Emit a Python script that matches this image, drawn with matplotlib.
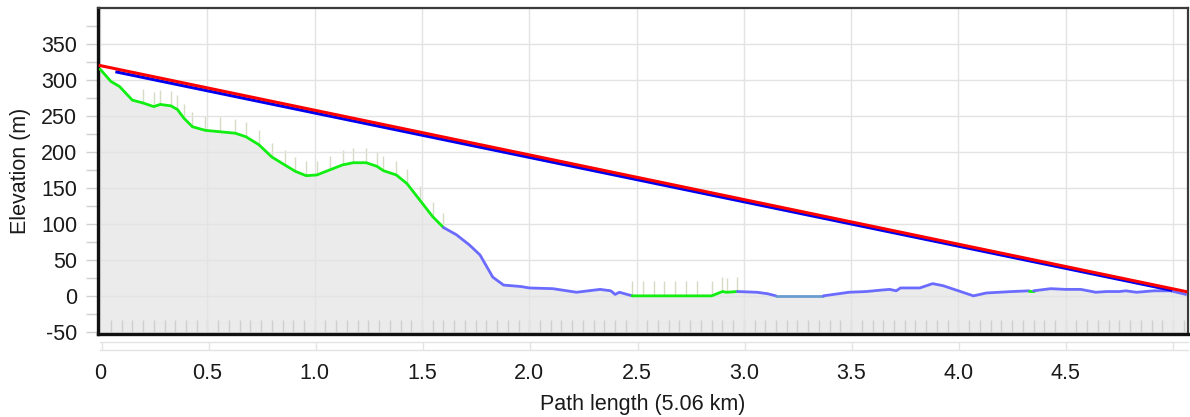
import matplotlib
matplotlib.use("Agg")
import matplotlib.pyplot as plt
import numpy as np

plt.rcParams['font.family'] = ['Liberation Sans', 'DejaVu Sans']
plt.rcParams['axes.unicode_minus'] = False

# Terrain profile (distance km, elevation m)
dist = [0.00, 0.05, 0.09, 0.15, 0.20, 0.25, 0.28, 0.33, 0.36, 0.39, 0.43, 0.49,
        0.56, 0.63, 0.68, 0.74, 0.80, 0.86, 0.91, 0.96, 1.01, 1.07, 1.13, 1.18,
        1.24, 1.29, 1.32, 1.38, 1.43, 1.49, 1.55, 1.60, 1.66, 1.72, 1.77, 1.83,
        1.88, 1.96, 2.00, 2.11, 2.22, 2.33, 2.38, 2.40, 2.42, 2.48, 2.53, 2.58,
        2.63, 2.68, 2.73, 2.78, 2.85, 2.90, 2.92, 2.97, 3.06, 3.11, 3.15, 3.37,
        3.49, 3.57, 3.64, 3.68, 3.71, 3.73, 3.82, 3.88, 3.93, 4.01, 4.07, 4.13,
        4.19, 4.25, 4.33, 4.35, 4.43, 4.50, 4.57, 4.64, 4.69, 4.75, 4.78, 4.83,
        4.91, 4.99, 5.06]
elev = [315, 298, 291, 272, 268, 263, 266, 264, 259, 247, 235, 230,
        228, 226, 221, 210, 193, 182, 173, 167, 168, 175, 182, 185,
        185, 180, 174, 168, 156, 133, 110, 95, 85, 71, 57, 26,
        15, 13, 11, 10, 5, 9, 7, 2, 5, 0, 0, 0,
        0, 0, 0, 0, 0, 6, 5, 6, 5, 3, 0, 0,
        5, 6, 8, 9, 7, 11, 11, 17, 14, 6, 0, 4,
        5, 6, 7, 7, 10, 9, 9, 5, 6, 6, 7, 5,
        7, 7, 2]

# Land cover segments along the path (start km, end km, colour)
seg_start = [0.00, 1.60, 2.48, 2.97, 3.15, 3.37, 4.33, 4.35]
seg_end = [1.60, 2.48, 2.97, 3.15, 3.37, 4.33, 4.35, 5.06]
seg_color = ['#11ee11', '#6b6bff', '#11ee11', '#6b6bff', '#6a9bd0', '#6b6bff', '#11ee11', '#6b6bff']

clutter_height = 20  # m, on vegetated segments

# Line-of-sight rays
red_x = [0.0, 5.06]
red_y = [320, 6]
blue_x = [0.078, 4.99]
blue_y = [311, 8]

xticks = [0, 0.5, 1.0, 1.5, 2.0, 2.5, 3.0, 3.5, 4.0, 4.5]
xticklabels = ['0', '0.5', '1.0', '1.5', '2.0', '2.5', '3.0', '3.5', '4.0', '4.5']
yticks = [-50, 0, 50, 100, 150, 200, 250, 300, 350]

dist = np.array(dist)
elev = np.array(elev)

fig = plt.figure(figsize=(11.9, 4.17), dpi=100)
ax = fig.add_axes([98 / 1190, 1 - 334 / 417, 1090 / 1190, 326 / 417])

ymin, ymax = -53, 400
ax.fill_between(dist, elev, ymin, color='#ebebeb', zorder=1, linewidth=0)

# bottom hatch marks
hx = np.arange(0.05, 5.06, 0.05)
ax.vlines(hx, -50, -33, color='#cfcfcf', linewidth=1, zorder=1.2)

# clutter marks above vegetated segments
for s, e, c in zip(seg_start, seg_end, seg_color):
    if c != '#11ee11' or e - s < 0.1:
        continue
    m = (dist >= s) & (dist <= e) & (dist > 0.18)
    ax.vlines(dist[m], elev[m], elev[m] + clutter_height, color='#d6dbc6',
              linewidth=1, zorder=1.3)

for s, e, c in zip(seg_start, seg_end, seg_color):
    m = (dist >= s - 1e-9) & (dist <= e + 1e-9)
    ax.plot(dist[m], elev[m], color=c, linewidth=2, zorder=3,
            solid_capstyle='round')

ax.plot(red_x, red_y, color='#ff0000', linewidth=2.2, zorder=4)
ax.plot(blue_x, blue_y, color='#0000ee', linewidth=2.2, zorder=3.9)

ax.set_xlim(-0.01, 5.07)
ax.set_ylim(ymin, ymax)
ax.set_xticks(xticks)
ax.set_xticklabels(xticklabels)
ax.set_yticks(yticks)
ax.set_yticks(np.arange(-25, 400, 50), minor=True)
ax.axvline(5.0, color='#e6e6e6', linewidth=1, zorder=1.5)

ax.set_axisbelow('line')
ax.grid(True, which='major', color='#e3e3e3', linewidth=1)
ax.tick_params(axis='x', length=0, pad=21, labelsize=15.5, colors='#1a1a1a')
ax.tick_params(axis='y', which='both', length=9, width=1, color='#d0d0d0',
               pad=6, labelsize=15.5, labelcolor='#1a1a1a')

for side in ['left', 'bottom']:
    ax.spines[side].set_color('#111111')
    ax.spines[side].set_linewidth(2.4)
for side in ['top', 'right']:
    ax.spines[side].set_color('#3a3a3a')
    ax.spines[side].set_linewidth(1.6)

ax.set_xlabel('Path length (5.06 km)', fontsize=15.5, labelpad=7, color='#1a1a1a')
ax.set_ylabel('Elevation (m)', fontsize=15.5, labelpad=7, color='#1a1a1a')

# faint empty strip below the plot
strip = fig.add_axes([100 / 1190, 1 - 350 / 417, 1088 / 1190, 8 / 417])
strip.set_xlim(-0.01, 5.07)
strip.set_ylim(0, 1)
strip.set_xticks(xticks + [5.0])
strip.set_yticks([])
strip.tick_params(axis='x', length=0, labelbottom=False)
strip.grid(True, axis='x', color='#e3e3e3', linewidth=1)
for sp in strip.spines.values():
    sp.set_color('#e3e3e3')
    sp.set_linewidth(1)
strip.spines['left'].set_visible(False)
strip.spines['right'].set_visible(False)

fig.savefig('out.png', dpi=100)
